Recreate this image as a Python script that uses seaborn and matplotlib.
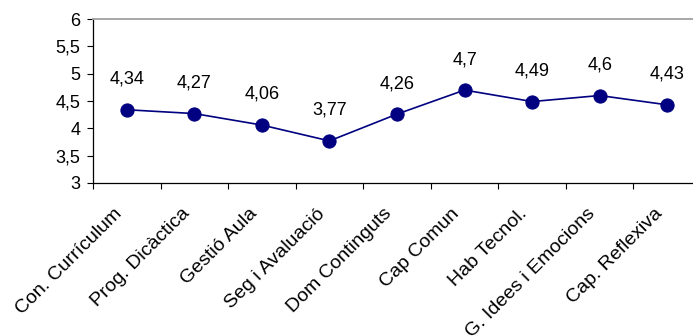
import matplotlib
matplotlib.use("Agg")
import matplotlib.pyplot as plt
import seaborn as sns
import pandas as pd
import numpy as np

categories = ["Con. Currículum", "Prog. Dicàctica", "Gestió Aula", "Seg i Avaluació",
              "Dom Continguts", "Cap Comun", "Hab Tecnol.", "G. Idees i Emocions",
              "Cap. Reflexiva"]
values = [4.34, 4.27, 4.06, 3.77, 4.26, 4.7, 4.49, 4.6, 4.43]
value_labels = ["4,34", "4,27", "4,06", "3,77", "4,26", "4,7", "4,49", "4,6", "4,43"]
y_ticks = [3, 3.5, 4, 4.5, 5, 5.5, 6]
y_tick_labels = ["3", "3,5", "4", "4,5", "5", "5,5", "6"]

sns.set_theme(style="white")
plt.rcParams['font.family'] = ['Liberation Sans', 'DejaVu Sans']

navy = "#000080"
fig = plt.figure(figsize=(6.93, 3.36), dpi=100)
ax = fig.add_axes([93/693, 1-183/336, 608/693, (183-19)/336])

df = pd.DataFrame({"pos": np.arange(len(categories)), "value": values})
sns.lineplot(data=df, x="pos", y="value", ax=ax, color=navy, linewidth=1.2,
             marker="o", markersize=9.5, markeredgecolor=navy, markerfacecolor=navy)

for i, (v, lab) in enumerate(zip(values, value_labels)):
    ax.annotate(lab, (i, v), xytext=(0, 22), textcoords="offset points",
                ha="center", va="center", fontsize=13, color="black")

n = len(categories)
ax.set_xlim(-0.5, n - 0.5)
ax.set_ylim(3, 6)
ax.set_yticks(y_ticks)
ax.set_yticklabels(y_tick_labels, fontsize=13, color="black")
# label anchors slightly left of category centres (tick marks hidden)
ax.set_xticks(np.arange(n) - 0.2)
ax.set_xticks(np.arange(n) - 0.5, minor=True)
ax.set_xticklabels(categories, rotation=45, ha="right", va="top",
                   rotation_mode="anchor", fontsize=14, color="black")

ax.tick_params(axis="x", which="major", length=0, pad=16)
ax.tick_params(axis="x", which="minor", length=4, width=0.8, color="black",
               direction="out", bottom=True)
ax.tick_params(axis="y", which="major", length=4, width=0.8, color="black",
               direction="out", left=True, pad=5)
ax.set_xlabel("")
ax.set_ylabel("")

for s in ["left", "bottom"]:
    ax.spines[s].set_color("black")
    ax.spines[s].set_linewidth(0.9)
ax.spines["top"].set_color("#a0a0a0")
ax.spines["top"].set_linewidth(1.3)
ax.spines["right"].set_visible(False)

fig.savefig("out.png", dpi=100)
